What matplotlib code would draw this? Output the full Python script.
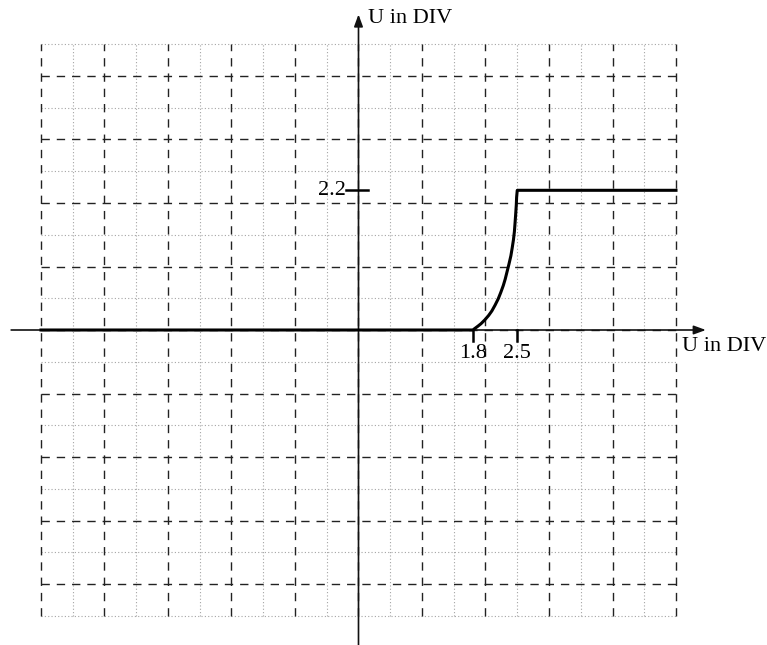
import numpy as np
import matplotlib
matplotlib.use("Agg")
from matplotlib import pyplot as plt

# Кривая выходного напряжения (в делениях)
curve_x = [1.80, 1.84, 1.88, 1.93, 1.99, 2.05, 2.10, 2.15, 2.20, 2.24, 2.28, 2.31,
           2.34, 2.37, 2.40, 2.42, 2.44, 2.455, 2.465, 2.475, 2.485, 2.49, 2.50]
curve_y = [0.00, 0.03, 0.06, 0.10, 0.16, 0.23, 0.30, 0.39, 0.49, 0.59, 0.70, 0.80,
           0.92, 1.04, 1.17, 1.29, 1.42, 1.55, 1.68, 1.82, 1.97, 2.09, 2.20]
x_start, x_end = -5.0, 5.0
y_high = 2.2

# Подписанные значения на осях
x_ticks = [1.8, 2.5]
x_tick_labels = ["1.8", "2.5"]
y_ticks = [2.2]
y_tick_labels = ["2.2"]
axis_label = "U in DIV"

# Границы сетки
grid_x = (-5, 5)
grid_y = (-4.5, 4.5)

plt.rcParams['font.family'] = ['Liberation Serif', 'DejaVu Serif']

fig = plt.figure(figsize=(7.67, 6.45), dpi=100)
ax = fig.add_axes([0, 0, 1, 1])
scale = 63.5
ax.set_xlim(-358.5 / scale, (767 - 358.5) / scale)
ax.set_ylim((330 - 645) / scale, 330 / scale)
ax.axis('off')

# Сетка: основные линии - штрих, промежуточные - точки
for v in np.arange(grid_x[0] + 0.5, grid_x[1], 1.0):
    ax.plot([v, v], grid_y, color='#a5a5a5', lw=0.8, ls=(0, (1, 2)), zorder=1)
for v in np.arange(grid_y[0], grid_y[1] + 0.01, 1.0):
    ax.plot(grid_x, [v, v], color='#a5a5a5', lw=0.8, ls=(0, (1, 2)), zorder=1)
for v in np.arange(grid_x[0], grid_x[1] + 0.01, 1.0):
    ax.plot([v, v], grid_y, color='#222222', lw=1.0, dashes=(6, 5), zorder=2)
for v in np.arange(-4, 5, 1.0):
    ax.plot(grid_x, [v, v], color='#222222', lw=1.0, dashes=(6, 5), zorder=2)

# Оси со стрелками
arrow = dict(arrowstyle='-|>,head_length=0.6,head_width=0.22', lw=1.2, color='#111111',
             mutation_scale=12, shrinkA=0, shrinkB=0)
ax.annotate('', xy=(5.47, 0), xytext=(-5.47, 0), arrowprops=arrow, zorder=3)
ax.annotate('', xy=(0, 4.97), xytext=(0, -5.0), arrowprops=arrow, zorder=3)
ax.text(0.15, 4.9, axis_label, fontsize=16, ha='left', va='center')
ax.text(5.09, -0.26, axis_label, fontsize=16, ha='left', va='center')

# Метки на осях
for t, lab in zip(x_ticks, x_tick_labels):
    ax.plot([t, t], [0, -0.17], color='black', lw=1.8, zorder=4)
    ax.text(t, -0.37, lab, fontsize=16, ha='center', va='center')
for t, lab in zip(y_ticks, y_tick_labels):
    ax.plot([-0.19, 0.15], [t, t], color='black', lw=1.8, zorder=4)
    ax.text(-0.2, t, lab, fontsize=16, ha='right', va='center')

# Передаточная характеристика
out_x = [x_start] + curve_x + [x_end]
out_y = [0.0] + curve_y + [y_high]
ax.plot(out_x, out_y, color='black', lw=2.2, solid_joinstyle='round', zorder=5)

fig.savefig('out.png', dpi=100)
